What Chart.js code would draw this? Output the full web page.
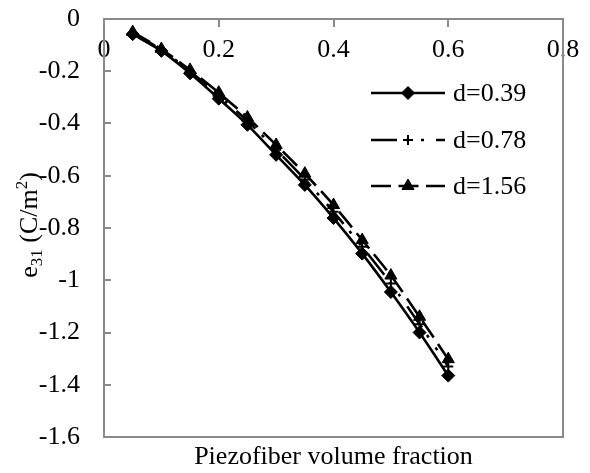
<!DOCTYPE html>
<html>
<head>
<meta charset="utf-8">
<script src="https://cdn.jsdelivr.net/npm/chart.js@4/dist/chart.umd.min.js"></script>
<style>
  html, body { margin: 0; padding: 0; background: #ffffff; }
  #wrap { width: 590px; height: 473px; position: relative; }
</style>
</head>
<body>
<div id="wrap"><canvas id="c"></canvas></div>
<script>
// ---- data ----
const volumeFraction = [0.05, 0.10, 0.15, 0.20, 0.25, 0.30, 0.35, 0.40, 0.45, 0.50, 0.55, 0.60];
const e31_d039 = [-0.058, -0.122, -0.208, -0.305, -0.405, -0.520, -0.635, -0.762, -0.898, -1.045, -1.200, -1.365];
const e31_d078 = [-0.054, -0.118, -0.200, -0.293, -0.390, -0.500, -0.614, -0.738, -0.872, -1.012, -1.168, -1.330];
const e31_d156 = [-0.050, -0.115, -0.195, -0.282, -0.377, -0.482, -0.592, -0.712, -0.846, -0.982, -1.140, -1.302];
const seriesLabels = ['d=0.39', 'd=0.78', 'd=1.56'];
const xTitle = 'Piezofiber volume fraction';
const yTitleParts = ['e', '31', ' (C/m', '2', ')'];

const FONT = '"Liberation Serif", "Times New Roman", serif';
const AXIS_GREY = '#8a8a8a';

function pts(ys) { return volumeFraction.map((x, i) => ({ x: x, y: ys[i] })); }
function fmt(v) { return String(Number(v.toFixed(1))); }
function noPad(scale) { scale.paddingTop = 0; scale.paddingBottom = 0; scale.paddingLeft = 0; scale.paddingRight = 0; }

const dashDot = [26, 9, 3, 12, 3, 12];
const longDash = [20, 7.5];

const datasets = [
  { label: seriesLabels[0], data: pts(e31_d039), borderColor: '#000', backgroundColor: '#000',
    borderWidth: 2.6, pointStyle: 'rectRot', pointRadius: 6.5, pointBorderWidth: 1, order: 3 },
  { label: seriesLabels[1], data: pts(e31_d078), borderColor: '#000', backgroundColor: '#000',
    borderWidth: 2.6, borderDash: dashDot, pointStyle: 'cross', pointRadius: 5, pointBorderWidth: 2, order: 2 },
  { label: seriesLabels[2], data: pts(e31_d156), borderColor: '#000', backgroundColor: '#000',
    borderWidth: 2.6, borderDash: longDash, pointStyle: 'triangle', pointRadius: 7, pointBorderWidth: 1, order: 1 }
];

const framePlugin = {
  id: 'frame',
  afterDraw(chart) {
    const { ctx, chartArea: a } = chart;
    ctx.save();
    ctx.strokeStyle = AXIS_GREY;
    ctx.lineWidth = 2;
    ctx.strokeRect(a.left, a.top, a.right - a.left, a.bottom - a.top);
    ctx.restore();
  }
};

const legendPlugin = {
  id: 'inlineLegend',
  afterDatasetsDraw(chart) {
    const { ctx, chartArea: a } = chart;
    const rows = [74, 121, 167];
    const x0 = a.left + 267, x1 = a.left + 341, tx = a.left + 349;
    ctx.save();
    chart.data.datasets.forEach((ds, i) => {
      const y = a.top + rows[i];
      ctx.strokeStyle = '#000';
      ctx.fillStyle = '#000';
      ctx.lineWidth = ds.borderWidth;
      ctx.setLineDash(ds.borderDash || []);
      ctx.beginPath();
      ctx.moveTo(x0, y);
      ctx.lineTo(x1, y);
      ctx.stroke();
      ctx.setLineDash([]);
      ctx.lineWidth = ds.pointBorderWidth;
      Chart.helpers.drawPoint(ctx, { pointStyle: ds.pointStyle, radius: ds.pointRadius, rotation: 0, borderWidth: ds.pointBorderWidth }, (x0 + x1) / 2, y);
      ctx.font = '26px ' + FONT;
      ctx.textBaseline = 'middle';
      ctx.textAlign = 'left';
      ctx.fillText(ds.label, tx, y + 1);
    });
    ctx.restore();
  }
};

const yTitlePlugin = {
  id: 'yTitle',
  afterDraw(chart) {
    const { ctx, chartArea: a } = chart;
    const big = '26px ' + FONT, small = '17px ' + FONT;
    const fonts = [big, small, big, small, big];
    const shifts = [0, 5, 0, -10, 0];
    ctx.save();
    let total = 0;
    const widths = yTitleParts.map((t, i) => { ctx.font = fonts[i]; const w = ctx.measureText(t).width; total += w; return w; });
    ctx.translate(28, (a.top + a.bottom) / 2 - 3);
    ctx.rotate(-Math.PI / 2);
    ctx.fillStyle = '#000';
    ctx.textBaseline = 'alphabetic';
    ctx.textAlign = 'left';
    let x = -total / 2;
    yTitleParts.forEach((t, i) => {
      ctx.font = fonts[i];
      ctx.fillText(t, x, 9 + shifts[i]);
      x += widths[i];
    });
    ctx.restore();
  }
};

new Chart(document.getElementById('c'), {
  type: 'line',
  data: { datasets: datasets },
  options: {
    responsive: true,
    maintainAspectRatio: false,
    animation: false,
    layout: { padding: { left: 0, right: 27, top: 19, bottom: 0 } },
    elements: { line: { tension: 0.25, fill: false } },
    plugins: { legend: { display: false }, tooltip: { enabled: false } },
    scales: {
      x: {
        type: 'linear',
        position: { y: 0 },
        min: 0, max: 0.8,
        ticks: { stepSize: 0.2, color: '#000', font: { family: FONT, size: 26 }, padding: 9, maxRotation: 0, callback: fmt },
        grid: { display: true, drawOnChartArea: false, drawTicks: true, tickLength: 7, color: AXIS_GREY, lineWidth: 2 },
        border: { display: true, color: AXIS_GREY, width: 2 },
        afterFit: noPad
      },
      x2: {
        type: 'linear',
        position: 'bottom',
        min: 0, max: 0.8,
        ticks: { display: false },
        grid: { display: false },
        border: { display: false },
        title: { display: true, text: xTitle, color: '#000', font: { family: FONT, size: 26 }, padding: { top: 0, bottom: 0 } },
        afterFit(scale) { scale.height = 36; noPad(scale); }
      },
      y: {
        type: 'linear',
        position: 'left',
        min: -1.6, max: 0,
        ticks: { stepSize: 0.2, color: '#000', font: { family: FONT, size: 26 }, padding: 31, callback: fmt },
        grid: { display: true, drawOnChartArea: false, drawTicks: true, tickLength: -7, color: AXIS_GREY, lineWidth: 2 },
        border: { display: true, color: AXIS_GREY, width: 2 },
        afterFit(scale) { scale.width = 104; noPad(scale); }
      }
    }
  },
  plugins: [framePlugin, legendPlugin, yTitlePlugin]
});
</script>
</body>
</html>
